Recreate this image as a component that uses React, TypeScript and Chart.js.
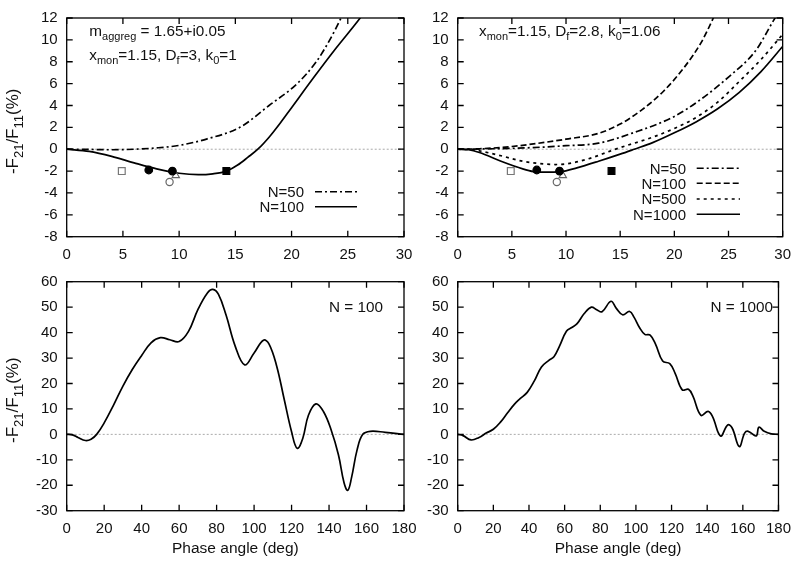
import React, { useEffect, useRef } from "react";
import { Chart, registerables } from "chart.js";

Chart.register(...registerables);

const FONT = "'Liberation Sans', Arial, Helvetica, sans-serif";
const W = 800;
const H = 561;

// ---------------- axis ranges / ticks ----------------
const TOP_X_RANGE = [0, 30];
const TOP_X_STEP = 5;
const TOP_Y_RANGE = [-8, 12];
const TOP_Y_STEP = 2;
const BOT_X_RANGE = [0, 180];
const BOT_X_STEP = 20;
const BOT_Y_RANGE = [-30, 60];
const BOT_Y_STEP = 10;

// ---------------- series (phase angle, -F21/F11 %) ----------------
const TL_N50 = [
  [0, 0], [2, -0.02], [4, -0.05], [6, 0], [8, 0.12], [10, 0.35], [12.5, 0.95],
  [15.4, 2], [18, 4], [20.5, 6], [22.2, 8], [23.4, 10], [24.4, 12], [25.3, 14],
];
const TL_N100 = [
  [0, 0], [2, -0.2], [4, -0.65], [6, -1.25], [8, -1.8], [10, -2.2], [11.7, -2.33],
  [13, -2.25], [14.2, -2.0], [15.2, -1.45], [16.1, -0.75], [17, 0], [18, 1.1],
  [19, 2.4], [20, 3.8], [22, 6.6], [24, 9.3], [26.1, 12], [27, 13.3],
];

const TR_N50 = [
  [0, 0], [2, 0.02], [5, 0.08], [8, 0.2], [10, 0.32], [13, 0.55], [16.2, 1.5],
  [20, 3.0], [22.5, 4.6], [25, 6.6], [27.5, 9.0], [29.3, 12], [30, 13],
];
const TR_N100 = [
  [0, 0], [2, 0.04], [5, 0.25], [8, 0.62], [10, 0.92], [13, 1.45], [15, 2.3],
  [17, 3.6], [19, 5.3], [21, 7.6], [22.5, 9.8], [23.6, 12], [24.5, 14],
];
const TR_N500 = [
  [0, 0], [1, -0.03], [2, -0.15], [4, -0.6], [6, -1.1], [8, -1.35], [9, -1.4],
  [10, -1.35], [12, -0.9], [14, -0.2], [15, 0.15], [18, 1.1], [20, 1.9],
  [22, 2.9], [24, 4.3], [26, 6.2], [28, 8.2], [30, 10.5],
];
const TR_N1000 = [
  [0, 0], [1, -0.05], [2, -0.3], [4, -1.1], [6, -1.8], [7, -2.05], [8, -2.1],
  [9.5, -2.05], [11, -1.7], [13, -1.1], [15, -0.45], [16.3, 0], [18, 0.6],
  [20, 1.5], [22, 2.5], [24, 3.7], [26, 5.2], [28, 7.1], [30, 9.4],
];

const BL_N100 = [
  [0, 0], [3, -0.2], [6, -1.2], [10, -2.4], [13, -1.9], [16, 0], [20, 4.5],
  [25, 11.5], [30, 19], [35, 25.5], [40, 31], [45, 36], [50, 38], [55, 37.2],
  [60, 36.5], [65, 40.5], [70, 49], [75, 55.5], [78, 57], [81, 55], [85, 47],
  [90, 34.5], [95, 27.3], [100, 32], [105, 37], [108, 35.5], [112, 27],
  [116, 14], [120, 1], [123, -5.5], [126, -1.5], [129, 7.5], [133, 12],
  [137, 9], [141, 2], [145, -8], [148, -19], [150, -22], [152, -17], [155, -6],
  [158, 0], [162, 1.2], [170, 0.8], [180, 0],
];

const BR_N1000 = [
  [0, 0], [3, -0.5], [7.5, -2.2], [12, -1.2], [16, 0.5], [20, 2], [24, 4.8],
  [28, 8.5], [32, 12], [35, 14], [39, 16.5], [43, 21], [47, 26.5], [51, 29],
  [54, 30.5], [57, 34.5], [61, 40.5], [64, 42], [67, 43.5], [71, 47.5],
  [75, 50], [78, 49], [81, 48.2], [86, 52.3], [89, 49.5], [92.5, 47],
  [96.5, 48.3], [99, 46], [102, 42], [105, 39.3], [108, 39], [111, 35.5],
  [115, 28.8], [119, 27.8], [122, 24], [126, 17.5], [129.5, 17.7], [132, 15],
  [136.5, 7.5], [140.5, 9], [143, 7], [147.5, -0.6], [151.5, 3.7], [154, 2.5],
  [158, -4.8], [161, 0.5], [163, 1.2], [167.5, -0.6], [169, 2.8], [172, 1.2],
  [176, 0.2], [180, 0],
];

// ---------------- observation markers ----------------
const OBS_OPEN_SQUARE = [[4.9, -2]];
const OBS_FILLED_CIRCLE = [[7.3, -1.9], [9.4, -2]];
const OBS_OPEN_CIRCLE = [[9.15, -3]];
const OBS_OPEN_TRIANGLE = [[9.7, -2.4]];
const OBS_FILLED_SQUARE = [[14.2, -2]];

// ---------------- styles ----------------
const DASH_DOTDASH = [7, 3, 2, 3];
const DASH_DASHED = [6, 3];
const DASH_DOTTED = [3, 4];
const SOLID: number[] = [];

const MARKERS = [
  { data: OBS_OPEN_SQUARE, style: "rect", r: 4.8, fill: "rgba(255,255,255,0)", stroke: "#777" },
  { data: OBS_FILLED_CIRCLE, style: "circle", r: 3.8, fill: "#000", stroke: "#000" },
  { data: OBS_OPEN_TRIANGLE, style: "triangle", r: 4.2, fill: "rgba(255,255,255,0)", stroke: "#666" },
  { data: OBS_OPEN_CIRCLE, style: "circle", r: 3.6, fill: "rgba(255,255,255,0)", stroke: "#666" },
  { data: OBS_FILLED_SQUARE, style: "rect", r: 4.8, fill: "#000", stroke: "#000" },
];

type Seg = [string, boolean?];

const YTITLE: Seg[] = [["-F"], ["21", true], ["/F"], ["11", true], ["(%)"]];

const PANELS = [
  {
    area: { l: 66.7, t: 10, r: 404, b: 236.7 },
    xr: TOP_X_RANGE, xs: TOP_X_STEP, yr: TOP_Y_RANGE, ys: TOP_Y_STEP,
    series: [
      { data: TL_N50, dash: DASH_DOTDASH },
      { data: TL_N100, dash: SOLID },
    ],
    smooth: false,
    markers: true,
    texts: [
      { segs: [["m"], ["aggreg", true], [" = 1.65+i0.05"]] as Seg[], x: 89.3, y: 36, align: "left" },
      { segs: [["x"], ["mon", true], ["=1.15, D"], ["f", true], ["=3, k"], ["0", true], ["=1"]] as Seg[], x: 89.3, y: 60, align: "left" },
    ],
    legend: [
      { label: "N=50", dash: DASH_DOTDASH, tx: 304, l: 315, r: 357, y: 191.7 },
      { label: "N=100", dash: SOLID, tx: 304, l: 315, r: 357, y: 206.7 },
    ],
    yTitle: true,
    xTitle: false,
  },
  {
    area: { l: 457.7, t: 10, r: 783.3, b: 236.7 },
    xr: TOP_X_RANGE, xs: TOP_X_STEP, yr: TOP_Y_RANGE, ys: TOP_Y_STEP,
    series: [
      { data: TR_N50, dash: DASH_DOTDASH },
      { data: TR_N100, dash: DASH_DASHED },
      { data: TR_N500, dash: DASH_DOTTED },
      { data: TR_N1000, dash: SOLID },
    ],
    smooth: false,
    markers: true,
    texts: [
      { segs: [["x"], ["mon", true], ["=1.15, D"], ["f", true], ["=2.8, k"], ["0", true], ["=1.06"]] as Seg[], x: 479, y: 36, align: "left" },
    ],
    legend: [
      { label: "N=50", dash: DASH_DOTDASH, tx: 686, l: 696.7, r: 740, y: 168.3 },
      { label: "N=100", dash: DASH_DASHED, tx: 686, l: 696.7, r: 740, y: 183.3 },
      { label: "N=500", dash: DASH_DOTTED, tx: 686, l: 696.7, r: 740, y: 199 },
      { label: "N=1000", dash: SOLID, tx: 686, l: 696.7, r: 740, y: 214.3 },
    ],
    yTitle: false,
    xTitle: false,
  },
  {
    area: { l: 66.7, t: 281.7, r: 404, b: 510.7 },
    xr: BOT_X_RANGE, xs: BOT_X_STEP, yr: BOT_Y_RANGE, ys: BOT_Y_STEP,
    series: [{ data: BL_N100, dash: SOLID }],
    smooth: true,
    markers: false,
    texts: [{ segs: [["N = 100"]] as Seg[], x: 383, y: 312, align: "right" }],
    legend: [],
    yTitle: true,
    xTitle: true,
  },
  {
    area: { l: 457.7, t: 281.7, r: 783.3, b: 510.7 },
    xr: BOT_X_RANGE, xs: BOT_X_STEP, yr: BOT_Y_RANGE, ys: BOT_Y_STEP,
    series: [{ data: BR_N1000, dash: SOLID }],
    smooth: true,
    markers: false,
    texts: [{ segs: [["N = 1000"]] as Seg[], x: 773, y: 312, align: "right" }],
    legend: [],
    yTitle: false,
    xTitle: true,
  },
];

const YW = 45; // y-axis box width
const XH = 25; // x-axis box height
const TICK = 6;

type FontSet = { main: number; sub: number };
const ANNOT_FONT: FontSet = { main: 15.3, sub: 11 };
const YTITLE_FONT: FontSet = { main: 17, sub: 13 };
const LABEL_FONT: FontSet = { main: 15, sub: 11 };
const XTITLE_FONT: FontSet = { main: 15.5, sub: 11 };

function drawRich(ctx: CanvasRenderingContext2D, segs: Seg[], x: number, y: number, align: string, f: FontSet) {
  let total = 0;
  const widths = segs.map(([t, sub]) => {
    ctx.font = `${sub ? f.sub : f.main}px ${FONT}`;
    const w = ctx.measureText(t).width;
    total += w;
    return w;
  });
  let cx = align === "right" ? x - total : align === "center" ? x - total / 2 : x;
  ctx.textAlign = "left";
  ctx.textBaseline = "alphabetic";
  const drop = f.main * 0.28;
  segs.forEach(([t, sub], i) => {
    ctx.font = `${sub ? f.sub : f.main}px ${FONT}`;
    ctx.fillText(t, cx, sub ? y + drop : y);
    cx += widths[i];
  });
}

function makeDecor(p: any) {
  return {
    id: "decor",
    afterDatasetsDraw(chart: any) {
      const ctx: CanvasRenderingContext2D = chart.ctx;
      const a = chart.chartArea;
      const xs = chart.scales.x;
      const ys = chart.scales.y;
      ctx.save();
      ctx.setLineDash([]);
      ctx.strokeStyle = "#000";
      ctx.lineWidth = 1.3;
      ctx.strokeRect(a.left, a.top, a.right - a.left, a.bottom - a.top);
      ctx.beginPath();
      xs.ticks.forEach((t: any) => {
        const px = xs.getPixelForValue(t.value);
        ctx.moveTo(px, a.bottom);
        ctx.lineTo(px, a.bottom - TICK);
        ctx.moveTo(px, a.top);
        ctx.lineTo(px, a.top + TICK);
      });
      ys.ticks.forEach((t: any) => {
        const py = ys.getPixelForValue(t.value);
        ctx.moveTo(a.left, py);
        ctx.lineTo(a.left + TICK, py);
        ctx.moveTo(a.right, py);
        ctx.lineTo(a.right - TICK, py);
      });
      ctx.stroke();

      ctx.fillStyle = "#111";
      p.texts.forEach((t: any) => drawRich(ctx, t.segs, t.x, t.y, t.align, ANNOT_FONT));

      p.legend.forEach((e: any) => {
        drawRich(ctx, [[e.label]], e.tx, e.y + 5.3, "right", LABEL_FONT);
        ctx.beginPath();
        ctx.setLineDash(e.dash);
        ctx.lineWidth = 1.6;
        ctx.moveTo(e.l, e.y);
        ctx.lineTo(e.r, e.y);
        ctx.stroke();
      });
      ctx.setLineDash([]);

      if (p.yTitle) {
        ctx.save();
        ctx.translate(18, (a.top + a.bottom) / 2 + 4);
        ctx.rotate(-Math.PI / 2);
        drawRich(ctx, YTITLE, 0, 0, "center", YTITLE_FONT);
        ctx.restore();
      }
      if (p.xTitle) {
        drawRich(ctx, [["Phase angle (deg)"]], (a.left + a.right) / 2, 553, "center", XTITLE_FONT);
      }
      ctx.restore();
    },
  };
}

const toXY = (arr: number[][]) => arr.map(([x, y]) => ({ x, y }));

function buildConfig(p: any) {
  const datasets: any[] = [];
  datasets.push({
    data: toXY([[p.xr[0], 0], [p.xr[1], 0]]),
    borderColor: "#aaa",
    borderWidth: 1,
    borderDash: [2, 2],
    pointRadius: 0,
    order: 3,
  });
  p.series.forEach((s: any) => {
    const ds: any = {
      data: toXY(s.data),
      borderColor: "#000",
      borderWidth: 1.7,
      borderDash: s.dash,
      pointRadius: 0,
      order: 2,
    };
    if (p.smooth) ds.tension = 0.4;
    else ds.cubicInterpolationMode = "monotone";
    datasets.push(ds);
  });
  if (p.markers) {
    MARKERS.forEach((m) => {
      datasets.push({
        data: toXY(m.data),
        showLine: false,
        pointStyle: m.style,
        pointRadius: m.r,
        backgroundColor: m.fill,
        borderColor: m.stroke,
        borderWidth: 1.2,
        order: 1,
      });
    });
  }
  const tickFont = { family: FONT, size: 15 };
  return {
    type: "line",
    data: { datasets },
    options: {
      animation: false,
      responsive: false,
      events: [],
      layout: {
        padding: {
          left: p.area.l - YW,
          top: p.area.t,
          right: W - p.area.r,
          bottom: H - p.area.b - XH,
        },
      },
      plugins: { legend: { display: false }, tooltip: { enabled: false } },
      scales: {
        x: {
          type: "linear",
          min: p.xr[0],
          max: p.xr[1],
          ticks: { stepSize: p.xs, color: "#111", font: tickFont, padding: 9, maxRotation: 0, autoSkip: false },
          grid: { display: false, drawTicks: false },
          border: { display: false },
          afterFit: (s: any) => { s.height = XH; },
        },
        y: {
          type: "linear",
          min: p.yr[0],
          max: p.yr[1],
          ticks: { stepSize: p.ys, color: "#111", font: tickFont, padding: 9, autoSkip: false },
          grid: { display: false, drawTicks: false },
          border: { display: false },
          afterFit: (s: any) => { s.width = YW; },
        },
      },
    },
    plugins: [makeDecor(p)],
  };
}

function Panel({ p }: { p: any }) {
  const ref = useRef<HTMLCanvasElement>(null);
  useEffect(() => {
    const chart = new Chart(ref.current as HTMLCanvasElement, buildConfig(p) as any);
    return () => chart.destroy();
  }, [p]);
  return (
    <canvas
      ref={ref}
      width={W}
      height={H}
      style={{ position: "absolute", left: 0, top: 0, width: W, height: H }}
    />
  );
}

export default function App() {
  useEffect(() => {
    document.body.style.margin = "0";
    document.body.style.overflow = "hidden";
  }, []);
  return (
    <div style={{ position: "relative", width: W, height: H, background: "#fff", overflow: "hidden" }}>
      {PANELS.map((p, i) => (
        <Panel key={i} p={p} />
      ))}
    </div>
  );
}
